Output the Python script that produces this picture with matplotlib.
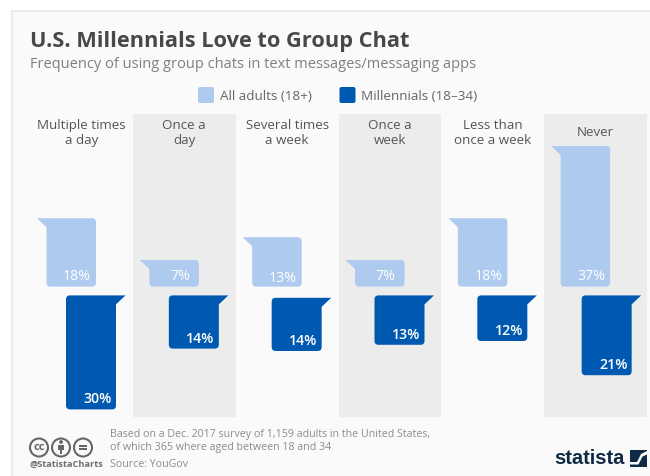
import matplotlib
matplotlib.use("Agg")
import matplotlib.pyplot as plt
from matplotlib.patches import PathPatch, Rectangle, Circle, Polygon, FancyBboxPatch
from matplotlib.path import Path

categories = ["Multiple times\na day", "Once a\nday", "Several times\na week",
              "Once a\nweek", "Less than\nonce a week", "Never"]
all_adults = [18, 7, 13, 7, 18, 37]
millennials = [30, 14, 14, 13, 12, 21]
series_names = ["All adults (18+)", "Millennials (18–34)"]

LIGHT = "#aecaee"
DARK = "#0059b0"
CARD = "#fafafa"
BAND = "#ececec"
W, H = 650, 476
PX_PER_PCT = 3.8
COL_PX = 617 / 6
plt.rcParams["font.family"] = ["Open Sans", "DejaVu Sans"]

fig = plt.figure(figsize=(W / 100, H / 100), dpi=100, facecolor="white")

# Page-level layer in pixel units for the card, headings, legend and footer
page = fig.add_axes([0, 0, 1, 1])
page.set_xlim(0, W)
page.set_ylim(H, 0)
page.axis("off")
page.add_patch(Rectangle((12, 11), W, H, fc=CARD, ec="#e8e8e8", lw=1.2))

# Chart layer: x in category slots, y in percent around a central gutter
top_px, bottom_px = 114, 417
zero_px = 291
ax = fig.add_axes([30 / W, 1 - bottom_px / H, 617 / W, (bottom_px - top_px) / H])
ax.set_xlim(0, 6)
ax.set_ylim((zero_px - bottom_px) / PX_PER_PCT, (zero_px - top_px) / PX_PER_PCT)
ax.axis("off")
ax.patch.set_alpha(0)

ux = 1 / COL_PX
uy = 1 / PX_PER_PCT


def bubble(left, right, top, bottom, tail_left):
    """Speech-bubble outline with a pointed tail on one top corner."""
    rx, ry = 4 * ux, 4 * uy
    tx, ty = 9.5 * ux, 9 * uy
    if tail_left:
        verts = [(left - tx, top), (right - rx, top), (right, top), (right, top - ry),
                 (right, bottom + ry), (right, bottom), (right - rx, bottom),
                 (left + rx, bottom), (left, bottom), (left, bottom + ry),
                 (left, top - ty), (left - tx, top)]
        codes = [Path.MOVETO, Path.LINETO, Path.CURVE3, Path.CURVE3, Path.LINETO,
                 Path.CURVE3, Path.CURVE3, Path.LINETO, Path.CURVE3, Path.CURVE3,
                 Path.LINETO, Path.CLOSEPOLY]
    else:
        verts = [(right + tx, top), (right, top - ty), (right, bottom + ry),
                 (right, bottom), (right - rx, bottom), (left + rx, bottom),
                 (left, bottom), (left, bottom + ry), (left, top - ry),
                 (left, top), (left + rx, top), (right + tx, top)]
        codes = [Path.MOVETO, Path.LINETO, Path.LINETO, Path.CURVE3, Path.CURVE3,
                 Path.LINETO, Path.CURVE3, Path.CURVE3, Path.LINETO, Path.CURVE3,
                 Path.CURVE3, Path.CLOSEPOLY]
    return Path(verts, codes)


gap = 4.4 * uy
for i, (name, a, m) in enumerate(zip(categories, all_adults, millennials)):
    if i % 2 == 1:
        ax.axvspan(i, i + 1, color=BAND, lw=0, zorder=0)
    # the third column sits slightly lower than its neighbours
    nudge = 2.4 * uy if i == 2 else 0
    shift = 1.5 * ux if i == 5 else 0
    ax.add_patch(PathPatch(bubble(i + 16.5 * ux, i + 66 * ux, gap + a, gap, True),
                           fc=LIGHT, ec="none", zorder=2))
    ax.add_patch(PathPatch(bubble(i + 36 * ux + shift, i + 86 * ux + shift, -gap - nudge,
                                  -gap - nudge - m, False),
                           fc=DARK, ec="none", zorder=2))
    ax.text(i + 47 * ux, gap + 10 * uy - nudge, f"{a}%", color="white", fontsize=10.2,
            ha="center", va="center", zorder=3)
    ax.text(i + 67.5 * ux + shift, -gap - nudge - m + 10 * uy, f"{m}%", color="white",
            fontsize=10.2, fontweight="semibold", ha="center", va="center", zorder=3)
    label_y = (zero_px - 133) / PX_PER_PCT
    ax.text(i + 0.5, label_y, name, color="#555555", fontsize=9.65, ha="center",
            va="center", linespacing=1.2, zorder=3)

# Headings
page.text(30, 42, "U.S. Millennials Love to Group Chat", fontsize=15.7, fontweight="bold",
          color="#484848", va="center")
page.text(30, 65, "Frequency of using group chats in text messages/messaging apps",
          fontsize=10.55, color="#808080", va="center")

# Legend
for x0, color, tx, label in [(198, LIGHT, 219.5, series_names[0]), (339.5, DARK, 361, series_names[1])]:
    page.add_patch(FancyBboxPatch((x0 + 1, 88), 14, 14, boxstyle="round,pad=1,rounding_size=2",
                                  fc=color, ec="none"))
    page.text(tx, 96.5, label, fontsize=9.7, color="#666666", va="center")

# Footer notes
note = "#8c8c8c"
page.text(110, 434.5, "Based on a Dec. 2017 survey of 1,159 adults in the United States,",
          fontsize=7.65, color=note, va="center")
page.text(110, 447.5, "of which 365 where aged between 18 and 34", fontsize=7.65, color=note, va="center")
page.text(110, 464.5, "Source: YouGov", fontsize=7.65, color=note, va="center")

# Licence badges
badge = "#666666"
for cx in (39, 61, 83):
    page.add_patch(Circle((cx, 447.5), 9, fc="none", ec=badge, lw=1.5))
page.text(39, 447.5, "cc", fontsize=8, fontweight="bold", color=badge, ha="center", va="center")
page.add_patch(Circle((61, 442), 1.9, fc=badge, ec="none"))
page.add_patch(Rectangle((58.2, 444.6), 5.6, 5.4, fc=badge, ec="none"))
page.add_patch(Rectangle((59.6, 449), 2.8, 4.6, fc=badge, ec="none"))
for dy in (445.6, 449.2):
    page.add_patch(Rectangle((79, dy - 0.8), 8, 1.7, fc=badge, ec="none"))
page.text(30, 464, "@StatistaCharts", fontsize=6.6, fontweight="bold", color="#6e6e6e", va="center")

# Wordmark and logo square
navy = "#0f2a45"
page.text(625, 459, "statista", family=["Liberation Sans", "DejaVu Sans"],
          fontsize=14.5, fontweight="bold", color=navy, ha="right", va="center")
page.add_patch(Rectangle((629.5, 450), 17.5, 16.5, fc=navy, ec="none"))
page.add_patch(Polygon([(629.5, 462), (637, 462), (641, 454), (647, 451), (647, 454.5),
                        (642.5, 456.5), (638.5, 464.5), (629.5, 464.5)],
                       fc="white", ec="none"))

fig.savefig("out.png", dpi=100, facecolor="white")
